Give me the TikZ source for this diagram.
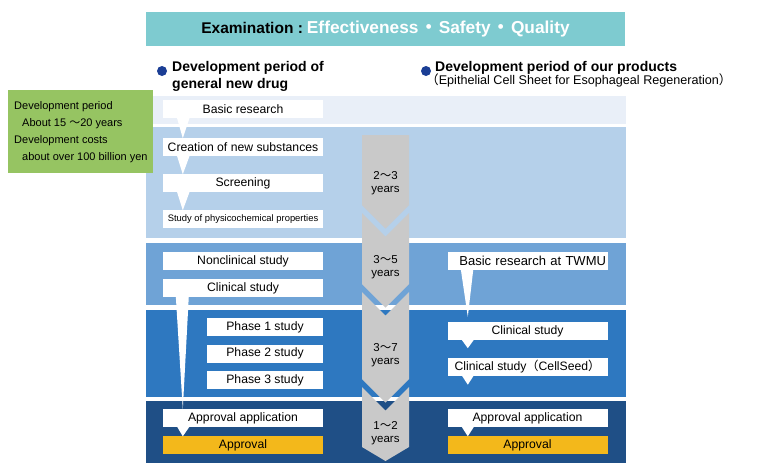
\documentclass[tikz,border=0pt]{standalone}
\usepackage{fontspec}
\setmainfont{Liberation Sans}
\newfontfamily\cjk{Noto Sans CJK JP}
\usetikzlibrary{calc}
\definecolor{titlec}{HTML}{7ECBD0}
\definecolor{bandA}{HTML}{E9EFF8}
\definecolor{bandB}{HTML}{B5D0EA}
\definecolor{bandC}{HTML}{6FA3D6}
\definecolor{bandD}{HTML}{2E78C0}
\definecolor{bandE}{HTML}{1F4F86}
\definecolor{greenc}{HTML}{96C462}
\definecolor{yellowc}{HTML}{F3B81B}
\definecolor{grayc}{HTML}{C9C9C9}
\definecolor{bulletc}{HTML}{1B3E95}
\begin{document}
\begin{tikzpicture}[x=1pt,y=-1pt,
  box/.style={rectangle, fill=white, minimum width=160pt, minimum height=18pt, inner sep=0pt, font=\fontsize{12.2}{14}\selectfont},
  phasebox/.style={box, minimum width=116pt},
  apprbox/.style={box, fill=yellowc},
  yrs/.style={align=center, font=\fontsize{11.5}{13}\selectfont, inner sep=0pt},
  gtext/.style={anchor=base west, inner sep=0pt, font=\fontsize{11}{13}\selectfont},
  hdr/.style={anchor=base west, inner sep=0pt, font=\fontsize{14}{17}\selectfont\bfseries},
  bullet/.style={circle, fill=bulletc, minimum size=10pt, inner sep=0pt},
  tailfill/.style={fill=white},
  chev/.style={fill=grayc},
]
\useasboundingbox (0,0) rectangle (768,475);
% title bar
\node[fill=titlec, minimum width=479pt, minimum height=34pt, inner sep=0pt,
  font=\fontsize{15.5}{18}\selectfont\bfseries] (title) at (385.5,29)
  {Examination :\hspace{4pt}{\fontsize{17.3}{18}\selectfont\color{white}Effectiveness\hspace{1.5pt}{\cjk ・}\hspace{1.5pt}Safety\hspace{1.5pt}{\cjk ・}\hspace{1.5pt}Quality}};
% headers
\node[bullet] (bulL) at (162,71) {};
\node[hdr] (hdrL1) at (172,71.7) {Development period of};
\node[hdr] (hdrL2) at (172,88.3) {general new drug};
\node[bullet] (bulR) at (426,71) {};
\node[hdr] (hdrR1) at (435,71) {Development period of our products};
\node[anchor=base west, inner sep=0pt, font=\fontsize{12.6}{14}\selectfont] (hdrR2) at (426,84)
  {{\cjk （}Epithelial Cell Sheet for Esophageal Regeneration{\cjk ）}};
% bands
\fill[bandA] (146,96) rectangle (625.5,123.5);
\fill[bandB] (146,126.5) rectangle (625.5,238);
\fill[bandC] (146,243) rectangle (625.5,305);
\fill[bandD] (146,310) rectangle (625.5,396.5);
\fill[bandE] (146,400.5) rectangle (625.5,463);
% green box
\node[fill=greenc, minimum width=145pt, minimum height=83pt, inner sep=0pt] (greenbox) at (80.5,131.5) {};
\node[gtext] (g1) at (14,109.5) {Development period};
\node[gtext] (g2) at (22,126) {About 15 {\cjk ～}20 years};
\node[gtext] (g3) at (14,143) {Development costs};
\node[gtext] (g4) at (22,160) {about over 100 billion yen};
% chevrons
\fill[chev] (362,135) -- (409,135) -- (409,205) -- (385.5,228.5) -- (362,205) -- cycle;
\fill[chev] (362,213) -- (385.5,236.5) -- (409,213) -- (409,284) -- (385.5,307.5) -- (362,284) -- cycle;
\fill[chev] (362,292) -- (385.5,315.5) -- (409,292) -- (409,379) -- (385.5,402.5) -- (362,379) -- cycle;
\fill[chev] (362,387) -- (385.5,410.5) -- (409,387) -- (409,447) -- (385.5,461) -- (362,447) -- cycle;
\node[yrs] (y1) at (385.5,183) {2{\cjk ～}3\\years};
\node[yrs] (y2) at (385.5,267) {3{\cjk ～}5\\years};
\node[yrs] (y3) at (385.5,355) {3{\cjk ～}7\\years};
\node[yrs] (y4) at (385.5,433.5) {1{\cjk ～}2\\years};
% left column
\node[box] (basic) at (243,109) {Basic research};
\node[box] (creation) at (243,147) {Creation of new substances};
\node[box] (screen) at (243,183) {Screening};
\node[box, font=\fontsize{9.4}{11}\selectfont] (physchem) at (243,219) {Study of physicochemical properties};
\node[box] (nonclin) at (243,261) {Nonclinical study};
\node[box] (clin) at (243,288) {Clinical study};
\node[phasebox] (ph1) at (265,327) {Phase 1 study};
\node[phasebox] (ph2) at (265,353.5) {Phase 2 study};
\node[phasebox] (ph3) at (265,380) {Phase 3 study};
\node[box] (appL) at (243,418) {Approval application};
\node[apprbox] (aprL) at (243,445) {Approval};
% right column
\node[box, font=\fontsize{13}{15}\selectfont, text width=157pt, align=right] (twmu) at (527.5,261) {Basic research at TWMU};
\node[box] (rclin) at (527.5,331) {Clinical study};
\node[box] (cellseed) at (527.5,366.5) {Clinical study{\cjk （}CellSeed{\cjk ）}};
\node[box] (appR) at (527.5,418) {Approval application};
\node[apprbox] (aprR) at (527.5,445) {Approval};
% free tail ends
\coordinate (tipA) at ($(rclin.south west)+(20.5,8)$);
\coordinate (tipB) at ($(cellseed.south west)+(20.5,9)$);
\coordinate (tipC) at ($(rclin.north west)+(20.5,-5)$);
% tails
\fill[tailfill] ($(basic.south west)+(14,-1)$) -- ($(basic.south west)+(27,-1)$) -- ($(creation.north west)+(20,0.5)$) -- cycle;
\fill[tailfill] ($(creation.south west)+(14,-1)$) -- ($(creation.south west)+(27,-1)$) -- ($(screen.north west)+(20,0.5)$) -- cycle;
\fill[tailfill] ($(screen.south west)+(14,-1)$) -- ($(screen.south west)+(27,-1)$) -- ($(physchem.north west)+(20,0.5)$) -- cycle;
\fill[tailfill] ($(clin.south west)+(13,-1)$) -- ($(clin.south west)+(26,-1)$) -- ($(appL.north west)+(20,0.5)$) -- cycle;
\fill[tailfill] ($(appL.south west)+(14,-1)$) -- ($(appL.south west)+(27,-1)$) -- ($(aprL.north west)+(20,0.5)$) -- cycle;
\fill[tailfill] ($(twmu.south west)+(13.5,-1)$) -- ($(twmu.south west)+(26,-1)$) -- (tipC) -- cycle;
\fill[tailfill] ($(rclin.south west)+(14,-1)$) -- ($(rclin.south west)+(27,-1)$) -- (tipA) -- cycle;
\fill[tailfill] ($(cellseed.south west)+(14,-1)$) -- ($(cellseed.south west)+(27,-1)$) -- (tipB) -- cycle;
\fill[tailfill] ($(appR.south west)+(14,-1)$) -- ($(appR.south west)+(27,-1)$) -- ($(aprR.north west)+(20.5,0.5)$) -- cycle;
\end{tikzpicture}
\end{document}
